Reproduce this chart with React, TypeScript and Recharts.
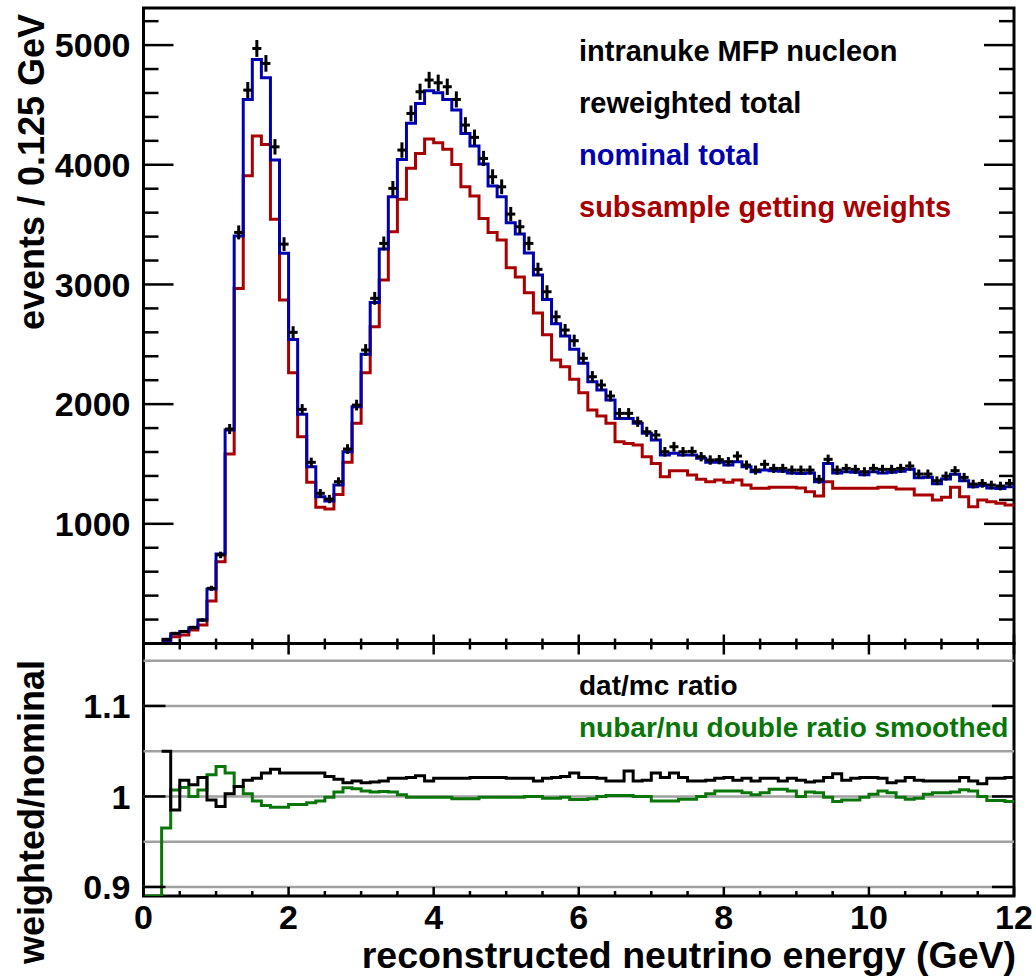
import React from "react";
import {
  ComposedChart,
  Line,
  Scatter,
  XAxis,
  YAxis,
  ErrorBar,
  ReferenceArea,
  ReferenceLine,
  Legend,
} from "recharts";

// 96 bins of 0.125 GeV from 0 to 12 GeV
const BIN_WIDTH = 0.125;

const reweightedTotal = [
  null, null, 35, 85, 100, 135, 196, 461, 740, 1792,
  3435, 4624, 4972, 4847, 4150, 3337, 2600, 1956, 1514, 1255,
  1207, 1352, 1625, 1992, 2452, 2884, 3343, 3803, 4123, 4429,
  4610, 4708, 4685, 4652, 4546, 4332, 4229, 4053, 3900, 3816,
  3588, 3482, 3343, 3126, 2939, 2730, 2619, 2530, 2383, 2229,
  2160, 2068, 1923, 1923, 1853, 1769, 1742, 1602, 1644, 1602,
  1605, 1561, 1533, 1536, 1519, 1566, 1491, 1449, 1497, 1463,
  1463, 1449, 1449, 1449, 1372, 1539, 1449, 1463, 1455, 1435,
  1463, 1455, 1455, 1463, 1483, 1416, 1416, 1360, 1399, 1444,
  1388, 1332, 1338, 1324, 1316, 1338,
];

const nominalTotal = [
  null, null, 28, 82, 100, 132, 196, 455, 748, 1784,
  3404, 4546, 4880, 4727, 4040, 3260, 2541, 1915, 1477, 1227,
  1190, 1324, 1602, 1978, 2416, 2850, 3296, 3733, 4045, 4346,
  4513, 4618, 4602, 4546, 4457, 4262, 4156, 4006, 3822, 3733,
  3515, 3421, 3262, 3079, 2875, 2672, 2570, 2458, 2341, 2187,
  2118, 2034, 1881, 1881, 1840, 1756, 1700, 1575, 1589, 1575,
  1575, 1547, 1514, 1514, 1491, 1519, 1477, 1435, 1449, 1443,
  1440, 1425, 1420, 1425, 1352, 1505, 1425, 1435, 1430, 1410,
  1435, 1425, 1430, 1440, 1455, 1385, 1390, 1335, 1375, 1415,
  1360, 1310, 1320, 1300, 1295, 1310,
];

const subsampleWeighted = [
  null, null, 20, 57, 71, 113, 155, 355, 683, 1583,
  2967, 3908, 4240, 4170, 3544, 2870, 2262, 1728, 1347, 1138,
  1124, 1246, 1514, 1840, 2262, 2647, 3037, 3440, 3711, 3970,
  4095, 4215, 4184, 4129, 4003, 3816, 3739, 3552, 3435, 3371,
  3140, 3062, 2930, 2762, 2580, 2368, 2313, 2207, 2095, 1951,
  1900, 1840, 1686, 1672, 1658, 1561, 1505, 1394, 1444, 1444,
  1408, 1372, 1352, 1366, 1347, 1366, 1324, 1297, 1297, 1305,
  1305, 1305, 1300, 1268, 1232, 1352, 1297, 1297, 1297, 1297,
  1297, 1305, 1305, 1291, 1291, 1241, 1241, 1199, 1221, 1305,
  1227, 1143, 1199, 1185, 1171, 1157,
];

const datMcRatio = [
  null, null, 1.05, 0.985, 1.018, 1.013, 1.021, 0.996, 0.989, 1.003,
  1.011, 1.018, 1.02, 1.026, 1.03, 1.026, 1.026, 1.026, 1.026, 1.026,
  1.022, 1.019, 1.015, 1.017, 1.015, 1.016, 1.017, 1.02, 1.02, 1.021,
  1.023, 1.017, 1.02, 1.02, 1.02, 1.02, 1.021, 1.021, 1.021, 1.021,
  1.02, 1.02, 1.02, 1.017, 1.02, 1.021, 1.022, 1.026, 1.021, 1.021,
  1.02, 1.017, 1.017, 1.028, 1.017, 1.018, 1.026, 1.021, 1.026, 1.021,
  1.017, 1.017, 1.018, 1.02, 1.021, 1.018, 1.02, 1.017, 1.02, 1.02,
  1.017, 1.02, 1.018, 1.016, 1.017, 1.021, 1.025, 1.018, 1.02, 1.021,
  1.021, 1.02, 1.015, 1.017, 1.021, 1.018, 1.017, 1.017, 1.017, 1.017,
  1.021, 1.017, 1.014, 1.02, 1.02, 1.021,
];

const doubleRatioSmoothed = [
  0.89, 0.89, 0.965, 1.007, 1.01, 1.0, 1.007, 1.024, 1.033, 1.026,
  1.011, 1.003, 0.995, 0.99, 0.988, 0.988, 0.991, 0.991, 0.993, 0.995,
  0.999, 1.005, 1.0095, 1.0085, 1.006, 1.005, 1.0055, 1.005, 1.002, 0.999,
  0.999, 0.999, 0.999, 0.999, 0.9975, 0.9975, 0.9975, 0.999, 0.999, 0.999,
  0.999, 0.999, 1.0, 1.0, 0.998, 0.998, 0.999, 0.9965, 0.9965, 0.9975,
  1.0, 1.001, 1.001, 1.001, 1.0, 1.0, 0.995, 0.995, 0.995, 0.997,
  0.997, 1.0, 1.003, 1.006, 1.006, 1.006, 1.004, 1.002, 1.004, 1.008,
  1.008, 1.006, 1.0, 1.005, 1.004, 0.999, 0.9945, 0.996, 0.996, 0.999,
  1.0025, 1.006, 1.004, 0.999, 0.997, 0.998, 1.0025, 1.004, 1.004, 1.005,
  1.0075, 1.006, 1.0, 0.9955, 0.9955, 0.9945,
];

const eventTicks = [
  200, 400, 600, 800, 1000, 1200, 1400, 1600, 1800, 2000, 2200, 2400, 2600,
  2800, 3000, 3200, 3400, 3600, 3800, 4000, 4200, 4400, 4600, 4800, 5000, 5200,
];
const eventLabels = [1000, 2000, 3000, 4000, 5000];
const energyTicks = [
  0, 0.5, 1, 1.5, 2, 2.5, 3, 3.5, 4, 4.5, 5, 5.5, 6, 6.5, 7, 7.5, 8, 8.5, 9,
  9.5, 10, 10.5, 11, 11.5, 12,
];
const energyLabels = [0, 2, 4, 6, 8, 10, 12];
const ratioTicks = [0.9, 1, 1.1];
const ratioGrid = [0.9, 0.95, 1, 1.05, 1.1, 1.15];

const topLegend = [
  { text: "intranuke MFP nucleon", color: "#000000" },
  { text: "reweighted total", color: "#000000" },
  { text: "nominal total", color: "#0000b0" },
  { text: "subsample getting weights", color: "#a80000" },
];
const bottomLegend = [
  { text: "dat/mc ratio", color: "#000000" },
  { text: "nubar/nu double ratio smoothed", color: "#0a760a" },
];

const FONT = '"Liberation Sans", Arial, Helvetica, sans-serif';
const BLUE = "#0000b0";
const RED = "#a80000";
const GREEN = "#0a760a";
const X_MAX = 12;
const EV_MAX = 5310;
const R_MIN = 0.89;
const R_MAX = 1.169;

const histRows = nominalTotal.map((_, i) => ({
  x: i * BIN_WIDTH,
  nominal: nominalTotal[i],
  subsample: subsampleWeighted[i],
  ratio: datMcRatio[i],
  dbl: doubleRatioSmoothed[i],
}));
const last = nominalTotal.length - 1;
histRows.push({
  x: nominalTotal.length * BIN_WIDTH,
  nominal: nominalTotal[last],
  subsample: subsampleWeighted[last],
  ratio: datMcRatio[last],
  dbl: doubleRatioSmoothed[last],
});

const pointRows = reweightedTotal
  .map((v, i) =>
    v == null
      ? null
      : { x: (i + 0.5) * BIN_WIDTH, y: v, ex: BIN_WIDTH / 2, ey: Math.sqrt(v) }
  )
  .filter((r) => r !== null);

const tickText: React.CSSProperties = {
  fontFamily: FONT,
  fontWeight: 700,
  fontSize: 34,
  fill: "#000",
};

const leftTick = (labels: number[], majorLen: number, minorLen: number) => (p: any) => {
  const major = labels.includes(p.payload.value);
  return (
    <g>
      <line x1={p.x} y1={p.y} x2={p.x + (major ? majorLen : minorLen)} y2={p.y} stroke="#000" strokeWidth={2.5} />
      {major ? (
        <text x={p.x - 13} y={p.y} dy="0.36em" textAnchor="end" style={tickText}>
          {p.payload.value}
        </text>
      ) : null}
    </g>
  );
};

const rightTick = (labels: number[], majorLen: number, minorLen: number) => (p: any) => {
  const major = labels.includes(p.payload.value);
  return (
    <line x1={p.x} y1={p.y} x2={p.x - (major ? majorLen : minorLen)} y2={p.y} stroke="#000" strokeWidth={2.5} />
  );
};

const bottomTick = (showLabels: boolean) => (p: any) => {
  const major = energyLabels.includes(p.payload.value);
  return (
    <g>
      <line x1={p.x} y1={p.y} x2={p.x} y2={p.y - (major ? 9 : 5)} stroke="#000" strokeWidth={2.5} />
      {showLabels && major ? (
        <text x={p.x} y={p.y + 21} dy="0.36em" textAnchor="middle" style={tickText}>
          {p.payload.value}
        </text>
      ) : null}
    </g>
  );
};

const topTick = (p: any) => {
  const major = energyLabels.includes(p.payload.value);
  return <line x1={p.x} y1={p.y} x2={p.x} y2={p.y + (major ? 11 : 6)} stroke="#000" strokeWidth={2.5} />;
};

const LegendBlock = ({
  rows,
  lineHeight,
  fontSize,
}: {
  rows: { text: string; color: string }[];
  lineHeight: number;
  fontSize: number;
}) => (
  <div style={{ fontFamily: FONT, fontWeight: 700, fontSize, lineHeight: `${lineHeight}px` }}>
    {rows.map((r) => (
      <div key={r.text} style={{ color: r.color, whiteSpace: "nowrap" }}>
        {r.text}
      </div>
    ))}
  </div>
);

const titleStyle: React.CSSProperties = {
  position: "absolute",
  fontFamily: FONT,
  fontWeight: 700,
  fontSize: 36,
  lineHeight: "40px",
  whiteSpace: "nowrap",
  textAlign: "center",
  color: "#000",
};

const crossDot = (p: any) => <circle cx={p.cx} cy={p.cy} r={1.5} fill="#000" />;

export default function App() {
  return (
    <div style={{ position: "absolute", left: 0, top: 0, width: 1036, height: 979, background: "#fff" }}>
      <div style={{ position: "absolute", left: 0, top: 0 }}>
        <ComposedChart width={1036} height={660} data={histRows} margin={{ top: 8, right: 0, bottom: 0, left: 0 }}>
          <XAxis
            dataKey="x"
            type="number"
            domain={[0, X_MAX]}
            ticks={energyTicks}
            interval={0}
            height={16.5}
            tickSize={0}
            tickMargin={0}
            tickLine={false}
            axisLine={false}
            allowDataOverflow
            tick={bottomTick(false)}
          />
          <YAxis
            yAxisId="l"
            type="number"
            domain={[0, EV_MAX]}
            ticks={eventTicks}
            interval={0}
            width={143.5}
            tickSize={0}
            tickMargin={0}
            tickLine={false}
            axisLine={false}
            allowDataOverflow
            tick={leftTick(eventLabels, 30, 15)}
          />
          <YAxis
            yAxisId="r"
            orientation="right"
            type="number"
            domain={[0, EV_MAX]}
            ticks={eventTicks}
            interval={0}
            width={22}
            tickSize={0}
            tickMargin={0}
            tickLine={false}
            axisLine={false}
            allowDataOverflow
            tick={rightTick(eventLabels, 30, 15)}
          />
          <ReferenceArea
            yAxisId="l"
            x1={0}
            x2={X_MAX}
            y1={0}
            y2={EV_MAX}
            fill="none"
            fillOpacity={0}
            stroke="#000"
            strokeWidth={3}
            ifOverflow="visible"
          />
          <Line yAxisId="l" dataKey="subsample" type="stepAfter" stroke={RED} strokeWidth={3} dot={false} isAnimationActive={false} />
          <Line yAxisId="l" dataKey="nominal" type="stepAfter" stroke={BLUE} strokeWidth={3} dot={false} isAnimationActive={false} />
          <Scatter yAxisId="l" data={pointRows} dataKey="y" fill="#000" shape={crossDot} isAnimationActive={false}>
            <ErrorBar dataKey="ey" direction="y" width={0} stroke="#000" strokeWidth={3} />
            <ErrorBar dataKey="ex" direction="x" width={0} stroke="#000" strokeWidth={3} />
          </Scatter>
          <Legend
            layout="vertical"
            align="center"
            verticalAlign="middle"
            wrapperStyle={{ left: 579, top: 25, width: 440 }}
            content={() => <LegendBlock rows={topLegend} lineHeight={52} fontSize={29} />}
          />
        </ComposedChart>
      </div>

      <div style={{ position: "absolute", left: 0, top: 620 }}>
        <ComposedChart width={1036} height={359} data={histRows} margin={{ top: 22.5, right: 0, bottom: 0, left: 0 }}>
          <XAxis
            xAxisId="b"
            dataKey="x"
            type="number"
            domain={[0, X_MAX]}
            ticks={energyTicks}
            interval={0}
            height={83}
            tickSize={0}
            tickMargin={0}
            tickLine={false}
            axisLine={false}
            allowDataOverflow
            tick={bottomTick(true)}
          />
          <XAxis
            xAxisId="t"
            orientation="top"
            dataKey="x"
            type="number"
            domain={[0, X_MAX]}
            ticks={energyTicks}
            interval={0}
            height={1}
            tickSize={0}
            tickMargin={0}
            tickLine={false}
            axisLine={false}
            allowDataOverflow
            tick={topTick}
          />
          <YAxis
            yAxisId="l"
            type="number"
            domain={[R_MIN, R_MAX]}
            ticks={ratioTicks}
            interval={0}
            width={143.5}
            tickSize={0}
            tickMargin={0}
            tickLine={false}
            axisLine={false}
            allowDataOverflow
            tick={leftTick(ratioTicks, 22, 22)}
          />
          <YAxis
            yAxisId="r"
            orientation="right"
            type="number"
            domain={[R_MIN, R_MAX]}
            ticks={ratioTicks}
            interval={0}
            width={22}
            tickSize={0}
            tickMargin={0}
            tickLine={false}
            axisLine={false}
            allowDataOverflow
            tick={rightTick(ratioTicks, 22, 22)}
          />
          {ratioGrid.map((v) => (
            <ReferenceLine key={v} xAxisId="b" yAxisId="l" y={v} stroke="#a0a0a0" strokeWidth={2.5} ifOverflow="visible" />
          ))}
          <ReferenceArea
            xAxisId="b"
            yAxisId="l"
            x1={0}
            x2={X_MAX}
            y1={R_MIN}
            y2={R_MAX}
            fill="none"
            fillOpacity={0}
            stroke="#000"
            strokeWidth={3}
            ifOverflow="visible"
          />
          <Line xAxisId="b" yAxisId="l" dataKey="dbl" type="stepAfter" stroke={GREEN} strokeWidth={3} dot={false} isAnimationActive={false} />
          <Line xAxisId="b" yAxisId="l" dataKey="ratio" type="stepAfter" stroke="#000" strokeWidth={3} dot={false} isAnimationActive={false} />
          <Legend
            layout="vertical"
            align="center"
            verticalAlign="middle"
            wrapperStyle={{ left: 579, top: 45, width: 440 }}
            content={() => <LegendBlock rows={bottomLegend} lineHeight={42} fontSize={28} />}
          />
        </ComposedChart>
      </div>

      <div style={{ ...titleStyle, width: 400, left: 32 - 200, top: 172 - 20, transform: "rotate(-90deg)" }}>
        events / 0.125 GeV
      </div>
      <div style={{ ...titleStyle, width: 400, left: 32 - 200, top: 812 - 20, transform: "rotate(-90deg)" }}>
        weighted/nominal
      </div>
      <div style={{ ...titleStyle, fontSize: 37.5, textAlign: "right", right: 1036 - 1016, top: 955 - 20 }}>
        reconstructed neutrino energy (GeV)
      </div>
    </div>
  );
}
